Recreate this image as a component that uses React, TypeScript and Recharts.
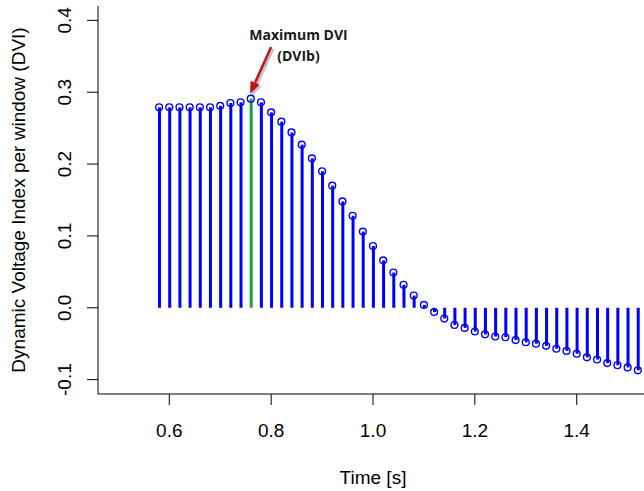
import {
  ComposedChart,
  Bar,
  Cell,
  Scatter,
  XAxis,
  YAxis,
  ReferenceLine,
  ReferenceDot,
} from 'recharts';

// window start times [s]
const times = [
  0.58, 0.6, 0.62, 0.64, 0.66, 0.68, 0.7, 0.72, 0.74, 0.76, 0.78, 0.8, 0.82, 0.84, 0.86, 0.88,
  0.9, 0.92, 0.94, 0.96, 0.98, 1.0, 1.02, 1.04, 1.06, 1.08, 1.1, 1.12, 1.14, 1.16, 1.18, 1.2,
  1.22, 1.24, 1.26, 1.28, 1.3, 1.32, 1.34, 1.36, 1.38, 1.4, 1.42, 1.44, 1.46, 1.48, 1.5, 1.52,
];

// DVI per window
const dvi = [
  0.279, 0.279, 0.279, 0.279, 0.279, 0.279, 0.281, 0.285, 0.286, 0.291, 0.286, 0.272, 0.259,
  0.244, 0.227, 0.208, 0.19, 0.17, 0.148, 0.128, 0.106, 0.086, 0.066, 0.049, 0.032, 0.017,
  0.004, -0.006, -0.015, -0.024, -0.028, -0.033, -0.037, -0.04, -0.041, -0.045, -0.048, -0.05,
  -0.053, -0.057, -0.06, -0.064, -0.069, -0.072, -0.077, -0.08, -0.083, -0.087,
];

const xTicks = [0.6, 0.8, 1.0, 1.2, 1.4];
const yTicks = [-0.1, 0.0, 0.1, 0.2, 0.3, 0.4];

const data = times.map((t, i) => ({ t, v: dvi[i] }));
const maxIdx = dvi.indexOf(Math.max(...dvi));

const BLUE = '#0000ff';
const GREEN = '#1fa04c';
const RED = '#c0141c';
const FONT = '"Liberation Sans", Arial, sans-serif';

const YTick = (props: any) => {
  const { x, y, payload } = props;
  return (
    <text
      x={x}
      y={y}
      transform={`rotate(-90, ${x}, ${y})`}
      textAnchor="middle"
      fontSize={19}
      fontFamily={FONT}
      fill="#000"
    >
      {payload.value.toFixed(1)}
    </text>
  );
};

const Circle = (props: any) => (
  <circle cx={props.cx} cy={props.cy} r={3.4} fill="none" stroke={BLUE} strokeWidth={1.4} />
);

const Arrow = (props: any) => {
  const { x1, y1, x2, y2 } = props;
  const dx = x2 - x1;
  const dy = y2 - y1;
  const len = Math.sqrt(dx * dx + dy * dy);
  const ux = dx / len;
  const uy = dy / len;
  const hl = 12;
  const hw = 5;
  const bx = x2 - ux * hl;
  const by = y2 - uy * hl;
  const head = (ox: number, oy: number) =>
    `${x2 + ox},${y2 + oy} ${bx - uy * hw + ox},${by + ux * hw + oy} ${bx + uy * hw + ox},${by - ux * hw + oy}`;
  return (
    <g>
      <line x1={x1 + 2} y1={y1 + 2} x2={bx + 2} y2={by + 2} stroke="#9a9a9a" strokeOpacity={0.6} strokeWidth={2.6} />
      <polygon points={head(2, 2)} fill="#9a9a9a" fillOpacity={0.6} />
      <line x1={x1} y1={y1} x2={bx} y2={by} stroke={RED} strokeWidth={2.6} />
      <polygon points={head(0, 0)} fill={RED} />
    </g>
  );
};

const Note = (text: string) => (props: any) => (
  <text
    x={props.cx}
    y={props.cy}
    textAnchor="middle"
    fontSize={14}
    fontWeight="bold"
    fontFamily='"Open Sans", sans-serif'
    fill="#1a1a1a"
  >
    {text}
  </text>
);

export default function App() {
  return (
    <div style={{ position: 'absolute', left: 0, top: 0, width: 644, height: 491, overflow: 'hidden', background: '#fff' }}>
      <ComposedChart
        width={660}
        height={491}
        data={data}
        margin={{ top: 6, right: 12, bottom: 0, left: 0 }}
      >
        <XAxis
          dataKey="t"
          type="number"
          domain={[0.46, 1.54]}
          allowDataOverflow
          ticks={xTicks}
          interval={0}
          tickFormatter={(v: number) => v.toFixed(1)}
          height={97}
          tickSize={11}
          tickMargin={19}
          axisLine={{ stroke: '#000' }}
          tickLine={{ stroke: '#000' }}
          tick={{ fill: '#000', fontSize: 19, fontFamily: FONT }}
          label={(p: any) => (
            <text
              x={p.viewBox.x + p.viewBox.width / 2}
              y={p.viewBox.y + 90}
              textAnchor="middle"
              fontSize={19}
              fontFamily={FONT}
              fill="#000"
            >
              Time [s]
            </text>
          )}
        />
        <XAxis
          xAxisId="top"
          orientation="top"
          dataKey="t"
          type="number"
          domain={[0.46, 1.54]}
          height={0}
          tick={false}
          tickLine={false}
          axisLine={{ stroke: '#000' }}
        />
        <YAxis
          type="number"
          domain={[-0.12, 0.42]}
          allowDataOverflow
          ticks={yTicks}
          interval={0}
          width={98}
          tickSize={11}
          tickMargin={15.5}
          axisLine={{ stroke: '#000' }}
          tickLine={{ stroke: '#000' }}
          tick={<YTick />}
          label={(p: any) => (
            <text
              x={p.viewBox.x + 25}
              y={p.viewBox.y + p.viewBox.height / 2}
              transform={`rotate(-90, ${p.viewBox.x + 25}, ${p.viewBox.y + p.viewBox.height / 2})`}
              textAnchor="middle"
              fontSize={19}
              fontFamily={FONT}
              fill="#000"
            >
              Dynamic Voltage Index per window (DVI)
            </text>
          )}
        />
        <Bar dataKey="v" barSize={3} isAnimationActive={false}>
          {data.map((d, i) => (
            <Cell key={d.t} fill={i === maxIdx ? GREEN : BLUE} />
          ))}
        </Bar>
        <Scatter dataKey="v" shape={<Circle />} isAnimationActive={false} />
        <ReferenceLine
          segment={[
            { x: 0.8, y: 0.363 },
            { x: 0.7587, y: 0.298 },
          ]}
          shape={<Arrow />}
        />
        <ReferenceDot x={0.8537} y={0.373} r={0} shape={Note('Maximum DVI')} />
        <ReferenceDot x={0.8537} y={0.344} r={0} shape={Note('(DVIb)')} />
      </ComposedChart>
    </div>
  );
}
